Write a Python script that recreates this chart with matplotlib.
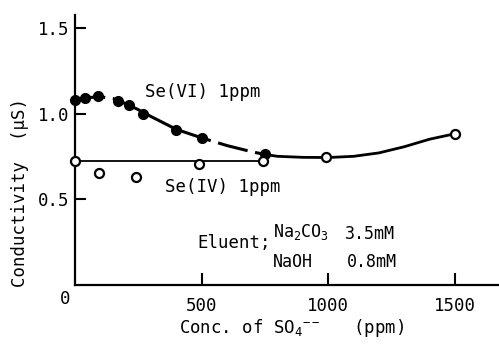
import matplotlib.pyplot as plt

plt.rcParams['font.family'] = ['DejaVu Sans Mono']
plt.rcParams['mathtext.default'] = 'regular'

# Se(VI) 1 ppm, filled markers
se6_conc = [0, 40, 90, 170, 215, 270, 400, 500, 750]
se6_cond = [1.08, 1.09, 1.105, 1.075, 1.05, 1.0, 0.905, 0.86, 0.766]

# Se(IV) 1 ppm, open markers
se4_conc = [0, 95, 243, 491, 743, 993, 1500]
se4_cond = [0.727, 0.653, 0.63, 0.708, 0.727, 0.746, 0.884]

# hand-drawn trend curves
se6_curve_conc = [0, 50, 100, 150, 200, 250, 300, 400, 500, 600, 700, 750]
se6_curve_cond = [1.085, 1.095, 1.10, 1.09, 1.06, 1.025, 0.985, 0.91, 0.86, 0.815, 0.778, 0.763]
tail_curve_conc = [750, 800, 900, 1000, 1100, 1200, 1300, 1400, 1500]
tail_curve_cond = [0.763, 0.752, 0.746, 0.745, 0.752, 0.772, 0.808, 0.852, 0.884]
se4_line_conc = [0, 750]
se4_line_cond = [0.727, 0.727]

xticks = [500, 1000, 1500]
yticks = [0.5, 1.0, 1.5]
ytick_labels = ["0.5", "1.0", "1.5"]

fig = plt.figure(figsize=(4.99, 3.45), dpi=100)
ax = fig.add_axes([0.150, 0.174, 0.850, 0.783])

ax.plot(se6_curve_conc, se6_curve_cond, color="black", lw=2.2,
        dashes=(10, 2.5), zorder=2)
ax.plot(tail_curve_conc, tail_curve_cond, color="black", lw=2.0, zorder=2)
ax.plot(se4_line_conc, se4_line_cond, color="black", lw=1.3, zorder=2)

ax.plot(se6_conc, se6_cond, "o", color="black", ms=7, zorder=3, clip_on=False)
ax.plot(se4_conc, se4_cond, "o", mfc="white", mec="black", mew=1.6, ms=6.5,
        zorder=4, clip_on=False)

ax.set_xlim(0, 1674)
ax.set_ylim(0, 1.579)

ax.spines["top"].set_visible(False)
ax.spines["right"].set_visible(False)
ax.spines["left"].set_linewidth(1.6)
ax.spines["bottom"].set_linewidth(1.6)

ax.set_xticks(xticks)
ax.set_xticklabels([str(t) for t in xticks])
ax.set_yticks(yticks)
ax.set_yticklabels(ytick_labels)
ax.tick_params(axis="x", direction="in", length=9, width=1.5, pad=9,
               labelsize=12.5)
ax.tick_params(axis="y", direction="in", length=8, width=1.5, pad=4,
               labelsize=12.5)
ax.text(-0.024, -0.052, "0", transform=ax.transAxes, ha="center",
        va="center", fontsize=12.5)

ax.set_ylabel("Conductivity  (\u03bcS)", fontsize=12.5)
ax.yaxis.label.set_va("center")
ax.yaxis.set_label_coords(-0.13, 0.344)
ax.set_xlabel("Conc. of SO$_4$$^{--}$   (ppm)", fontsize=12.5)
ax.xaxis.label.set_va("center")
ax.xaxis.set_label_coords(0.51, -0.16)

ax.text(276, 1.129, "Se(VI) 1ppm", ha="left", va="center", fontsize=12.5)
ax.text(355, 0.575, "Se(IV) 1ppm", ha="left", va="center", fontsize=12.5)

# eluent composition
ax.text(482, 0.243, "Eluent;", ha="left", va="center", fontsize=12.5)
ax.text(782, 0.281, "Na$_2$CO$_3$", ha="left", va="baseline", fontsize=12)
ax.text(1066, 0.298, "3.5mM", ha="left", va="center", fontsize=12)
ax.text(782, 0.137, "NaOH", ha="left", va="center", fontsize=12)
ax.text(1074, 0.135, "0.8mM", ha="left", va="center", fontsize=12)

fig.savefig("out.png", dpi=100)
